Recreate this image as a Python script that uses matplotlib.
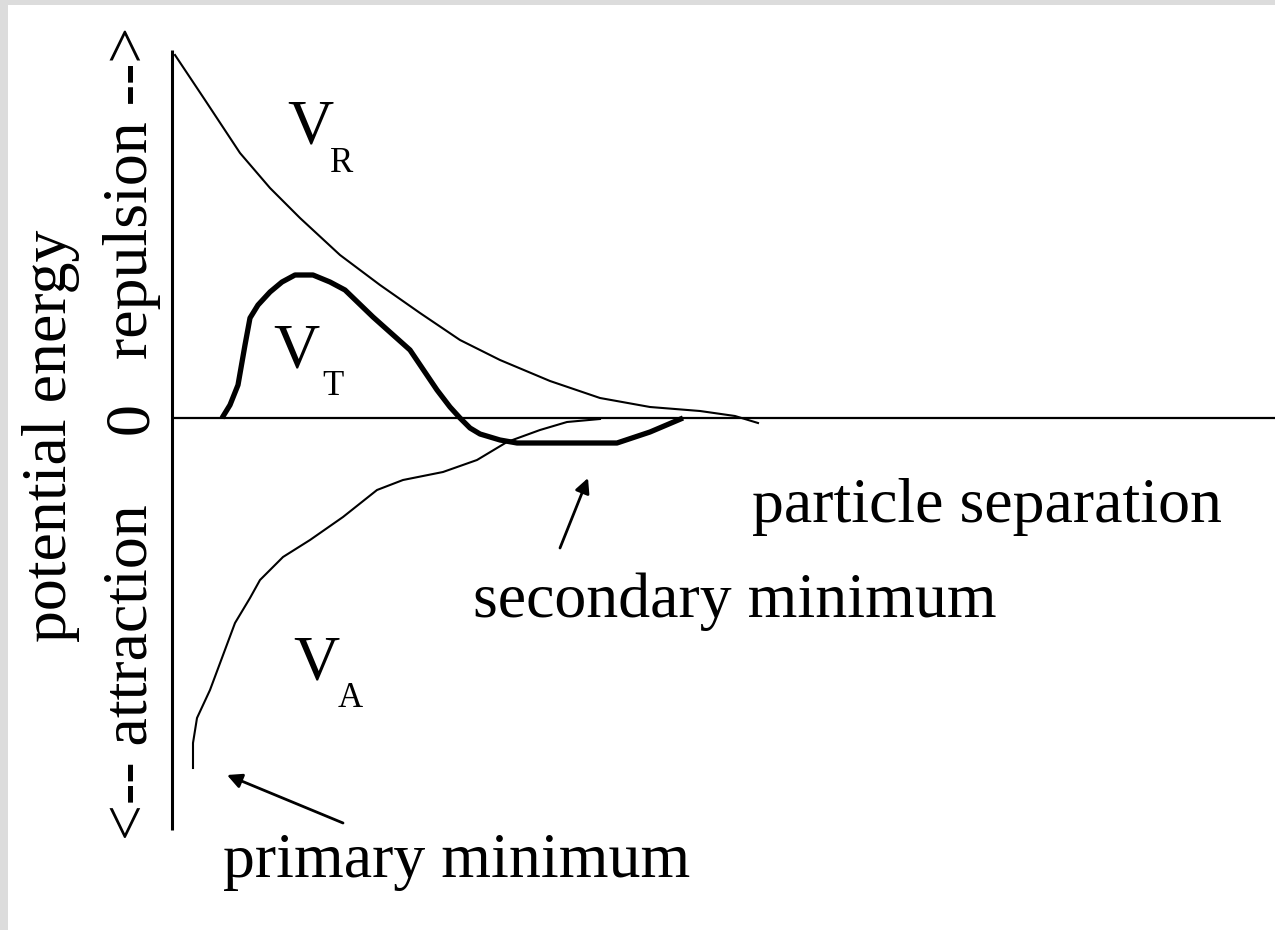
import matplotlib
matplotlib.use("Agg")
import matplotlib.pyplot as plt
from matplotlib.patches import Rectangle

plt.rcParams['font.family'] = ['Liberation Serif', 'DejaVu Serif']

# separation / potential energy (arbitrary units)
vr_x = [0.03, 0.33, 0.68, 0.98, 1.28, 1.68, 2.08, 2.48, 2.88, 3.28, 3.78, 4.28, 4.78, 5.28, 5.63, 5.86]
vr_y = [3.63, 3.18, 2.65, 2.30, 2.00, 1.63, 1.33, 1.05, 0.78, 0.58, 0.37, 0.20, 0.11, 0.07, 0.02, -0.05]

vt_x = [0.50, 0.58, 0.66, 0.73, 0.78, 0.86, 0.98, 1.10, 1.23, 1.41, 1.58, 1.73, 2.01, 2.38, 2.65,
        2.78, 2.88, 2.98, 3.08, 3.28, 3.45, 4.45, 4.78, 5.11]
vt_y = [0.00, 0.13, 0.33, 0.73, 1.00, 1.13, 1.26, 1.36, 1.43, 1.43, 1.36, 1.28, 1.01, 0.68, 0.28,
        0.11, 0.00, -0.10, -0.16, -0.22, -0.25, -0.25, -0.14, 0.00]

va_x = [0.21, 0.21, 0.25, 0.38, 0.63, 0.78, 0.88, 1.11, 1.38, 1.71, 2.05, 2.31, 2.71, 3.05, 3.35,
        3.68, 3.95, 4.28]
va_y = [-3.50, -3.25, -3.00, -2.72, -2.05, -1.80, -1.62, -1.39, -1.22, -0.99, -0.72, -0.62, -0.54,
        -0.42, -0.24, -0.12, -0.04, -0.01]

fig = plt.figure(figsize=(12.75, 9.3), dpi=100)
fig.patch.set_facecolor('#dcdcdc')

ax = fig.add_axes([0, 0, 1, 1])
ax.set_xlim(-1.72, 11.03)
ax.set_ylim(-5.12, 4.18)
ax.set_axis_off()
# white page with a thin grey margin on the left and top
ax.add_patch(Rectangle((8 / 1275, 0), 1 - 8 / 1275, 1 - 5 / 930, transform=fig.transFigure,
                       facecolor='white', edgecolor='none', zorder=-10, clip_on=False))

# axes drawn by hand, like the original sketch
ax.plot([0, 0], [-4.12, 3.68], color='black', lw=2.2, solid_capstyle='butt')
ax.plot([0, 11.03], [0, 0], color='black', lw=1.6, solid_capstyle='butt')

ax.plot(vr_x, vr_y, color='black', lw=1.5, solid_joinstyle='round')
ax.plot(vt_x, vt_y, color='black', lw=3.8, solid_joinstyle='round', solid_capstyle='butt')
ax.plot(va_x, va_y, color='black', lw=1.5, solid_joinstyle='round')

big = 46
small = 25
ax.text(1.15, 2.75, 'V', fontsize=big, va='baseline')
ax.text(1.58, 2.46, 'R', fontsize=small, va='baseline')
ax.text(1.01, 0.51, 'V', fontsize=big, va='baseline')
ax.text(1.50, 0.23, 'T', fontsize=small, va='baseline')
ax.text(1.21, -2.62, 'V', fontsize=big, va='baseline')
ax.text(1.66, -2.89, 'A', fontsize=small, va='baseline')

ax.text(5.80, -1.04, 'particle separation', fontsize=big, va='baseline')
ax.text(3.01, -1.99, 'secondary minimum', fontsize=big, va='baseline')
ax.text(0.51, -4.59, 'primary minimum', fontsize=big, va='baseline')

# y axis label, two rotated lines
rot = dict(rotation=90, rotation_mode='anchor', fontsize=big, va='baseline')
ax.text(-1.06, -0.18, 'potential energy', ha='center', **rot)
ax.text(-0.25, 3.91, 'repulsion -->', ha='right', **rot)
ax.text(-0.25, 0.0, '0', ha='center', **rot)
ax.text(-0.25, -4.22, '<-- attraction', ha='left', **rot)

arr = dict(arrowstyle='-|>', color='black', lw=2, mutation_scale=22, shrinkA=0, shrinkB=0)
ax.annotate('', xy=(0.55, -3.57), xytext=(1.71, -4.05), arrowprops=arr)
ax.annotate('', xy=(4.16, -0.60), xytext=(3.88, -1.30), arrowprops=arr)

fig.savefig('out.png', dpi=100, facecolor=fig.get_facecolor())
